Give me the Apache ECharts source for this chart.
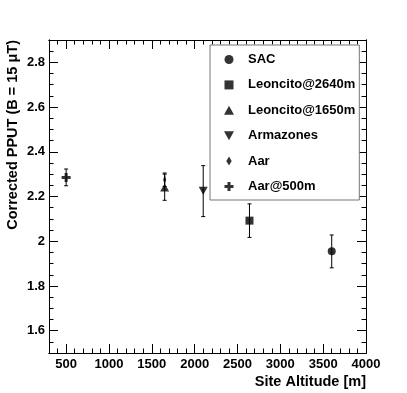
<!DOCTYPE html>
<html>
<head>
<meta charset="utf-8">
<script src="https://cdn.jsdelivr.net/npm/echarts@6/dist/echarts.min.js"></script>
<style>
  html, body { margin: 0; padding: 0; background: #fff; }
  #chart { width: 407px; height: 393px; }
</style>
</head>
<body>
<div id="chart"></div>
<script>
// site data
const siteNames = ['SAC', 'Leoncito@2640m', 'Leoncito@1650m', 'Armazones', 'Aar', 'Aar@500m'];
const altitudes = [3600, 2640, 1650, 2100, 1650, 500];
const pput = [1.955, 2.092, 2.24, 2.225, 2.275, 2.285];
const pputLow = [1.881, 2.017, 2.183, 2.11, 2.245, 2.248];
const pputHigh = [2.028, 2.167, 2.30, 2.338, 2.305, 2.323];

// axis ticks
const xMajor = [500, 1000, 1500, 2000, 2500, 3000, 3500, 4000];
const yMajor = [1.6, 1.8, 2, 2.2, 2.4, 2.6, 2.8];

const X_MIN = 300, X_MAX = 4000, Y_MIN = 1.5, Y_MAX = 2.9;

function minorTicks(min, max, step, majors) {
  const out = [];
  const n = Math.round((max - min) / step);
  for (let i = 0; i <= n; i++) {
    const v = +(min + i * step).toFixed(3);
    if (!majors.some(m => Math.abs(m - v) < 1e-6)) out.push(v);
  }
  return out;
}
const xMinor = minorTicks(X_MIN, X_MAX, 100, xMajor);
const yMinor = minorTicks(Y_MIN, Y_MAX, 0.05, yMajor);

// ROOT-ish marker shapes
const symbols = [
  'circle',
  'path://M0,0H10V10H0Z',
  'path://M5,0L10,9L0,9Z',
  'path://M0,0L10,0L5,9Z',
  'path://M3,0L6,5L3,10L0,5Z',
  'path://M3,0H6V3H9V6H6V9H3V6H0V3H3Z'
];
const symbolSizes = [8, 8, [9, 9], [9, 9], [5, 9], 9];

const FONT = '"Liberation Sans", Arial, Helvetica, sans-serif';

const chart = echarts.init(document.getElementById('chart'));

function xAxisDef(position, ticks, len, withLabels) {
  return {
    type: 'value',
    position: position,
    min: X_MIN,
    max: X_MAX,
    splitLine: { show: false },
    axisLine: { show: true, onZero: false, lineStyle: { color: '#000', width: 1 } },
    axisTick: { show: true, inside: true, length: len, customValues: ticks, lineStyle: { color: '#000', width: 1 } },
    axisLabel: withLabels
      ? { show: true, customValues: xMajor, margin: 5, color: '#000', fontWeight: 'bold', fontSize: 13, fontFamily: FONT,
          formatter: v => String(v) }
      : { show: false }
  };
}
function yAxisDef(position, ticks, len, withLabels) {
  return {
    type: 'value',
    position: position,
    min: Y_MIN,
    max: Y_MAX,
    splitLine: { show: false },
    axisLine: { show: true, onZero: false, lineStyle: { color: '#000', width: 1 } },
    axisTick: { show: true, inside: true, length: len, customValues: ticks, lineStyle: { color: '#000', width: 1 } },
    axisLabel: withLabels
      ? { show: true, customValues: yMajor, margin: 4, color: '#000', fontWeight: 'bold', fontSize: 13, fontFamily: FONT,
          formatter: v => String(+v.toFixed(2)) }
      : { show: false }
  };
}

const series = siteNames.map((name, i) => ({
  name: name,
  type: 'scatter',
  symbol: symbols[i],
  symbolSize: symbolSizes[i],
  symbolKeepAspect: true,
  itemStyle: { color: '#000' },
  z: 3,
  data: [[altitudes[i], pput[i]]]
}));

// error bars for all sites
series.push({
  name: 'errors',
  type: 'custom',
  z: 2,
  silent: true,
  data: altitudes.map((x, i) => [x, pputLow[i], pputHigh[i]]),
  renderItem: function (params, api) {
    const lo = api.coord([api.value(0), api.value(1)]);
    const hi = api.coord([api.value(0), api.value(2)]);
    const cap = 2;
    const style = { stroke: '#000', lineWidth: 1 };
    return {
      type: 'group',
      children: [
        { type: 'line', shape: { x1: lo[0], y1: lo[1], x2: hi[0], y2: hi[1] }, style: style },
        { type: 'line', shape: { x1: lo[0] - cap, y1: lo[1], x2: lo[0] + cap, y2: lo[1] }, style: style },
        { type: 'line', shape: { x1: hi[0] - cap, y1: hi[1], x2: hi[0] + cap, y2: hi[1] }, style: style }
      ]
    };
  }
});

const option = {
  animation: false,
  backgroundColor: '#fff',
  grid: { left: 49, right: 41, top: 40, bottom: 40, show: false },
  xAxis: [
    xAxisDef('bottom', xMajor, 9, true),
    xAxisDef('bottom', xMinor, 4.5, false),
    xAxisDef('top', xMajor, 9, false),
    xAxisDef('top', xMinor, 4.5, false)
  ],
  yAxis: [
    yAxisDef('left', yMajor, 9, true),
    yAxisDef('left', yMinor, 4.5, false),
    yAxisDef('right', yMajor, 9, false),
    yAxisDef('right', yMinor, 4.5, false)
  ],
  legend: {
    data: siteNames,
    orient: 'vertical',
    left: 210,
    top: 45,
    padding: [8, 4, 7, 14],
    itemWidth: 28,
    itemHeight: 9,
    itemGap: 12.4,
    backgroundColor: '#fff',
    borderColor: '#777',
    borderWidth: 1,
    borderRadius: 0,
    selectedMode: false,
    textStyle: { color: '#000', fontWeight: 'bold', fontSize: 13, fontFamily: FONT }
  },
  graphic: [
    {
      type: 'text',
      x: 13,
      y: 40,
      rotation: Math.PI / 2,
      style: {
        text: 'Corrected PPUT (B = 15 \u03bcT)',
        fill: '#000',
        font: 'bold 14.5px ' + FONT,
        textAlign: 'right',
        textVerticalAlign: 'middle'
      }
    },
    {
      type: 'text',
      x: 366,
      y: 382,
      style: {
        text: 'Site Altitude [m]',
        fill: '#000',
        font: 'bold 14.5px ' + FONT,
        textAlign: 'right',
        textVerticalAlign: 'middle'
      }
    }
  ],
  series: series
};

chart.setOption(option);
</script>
</body>
</html>
